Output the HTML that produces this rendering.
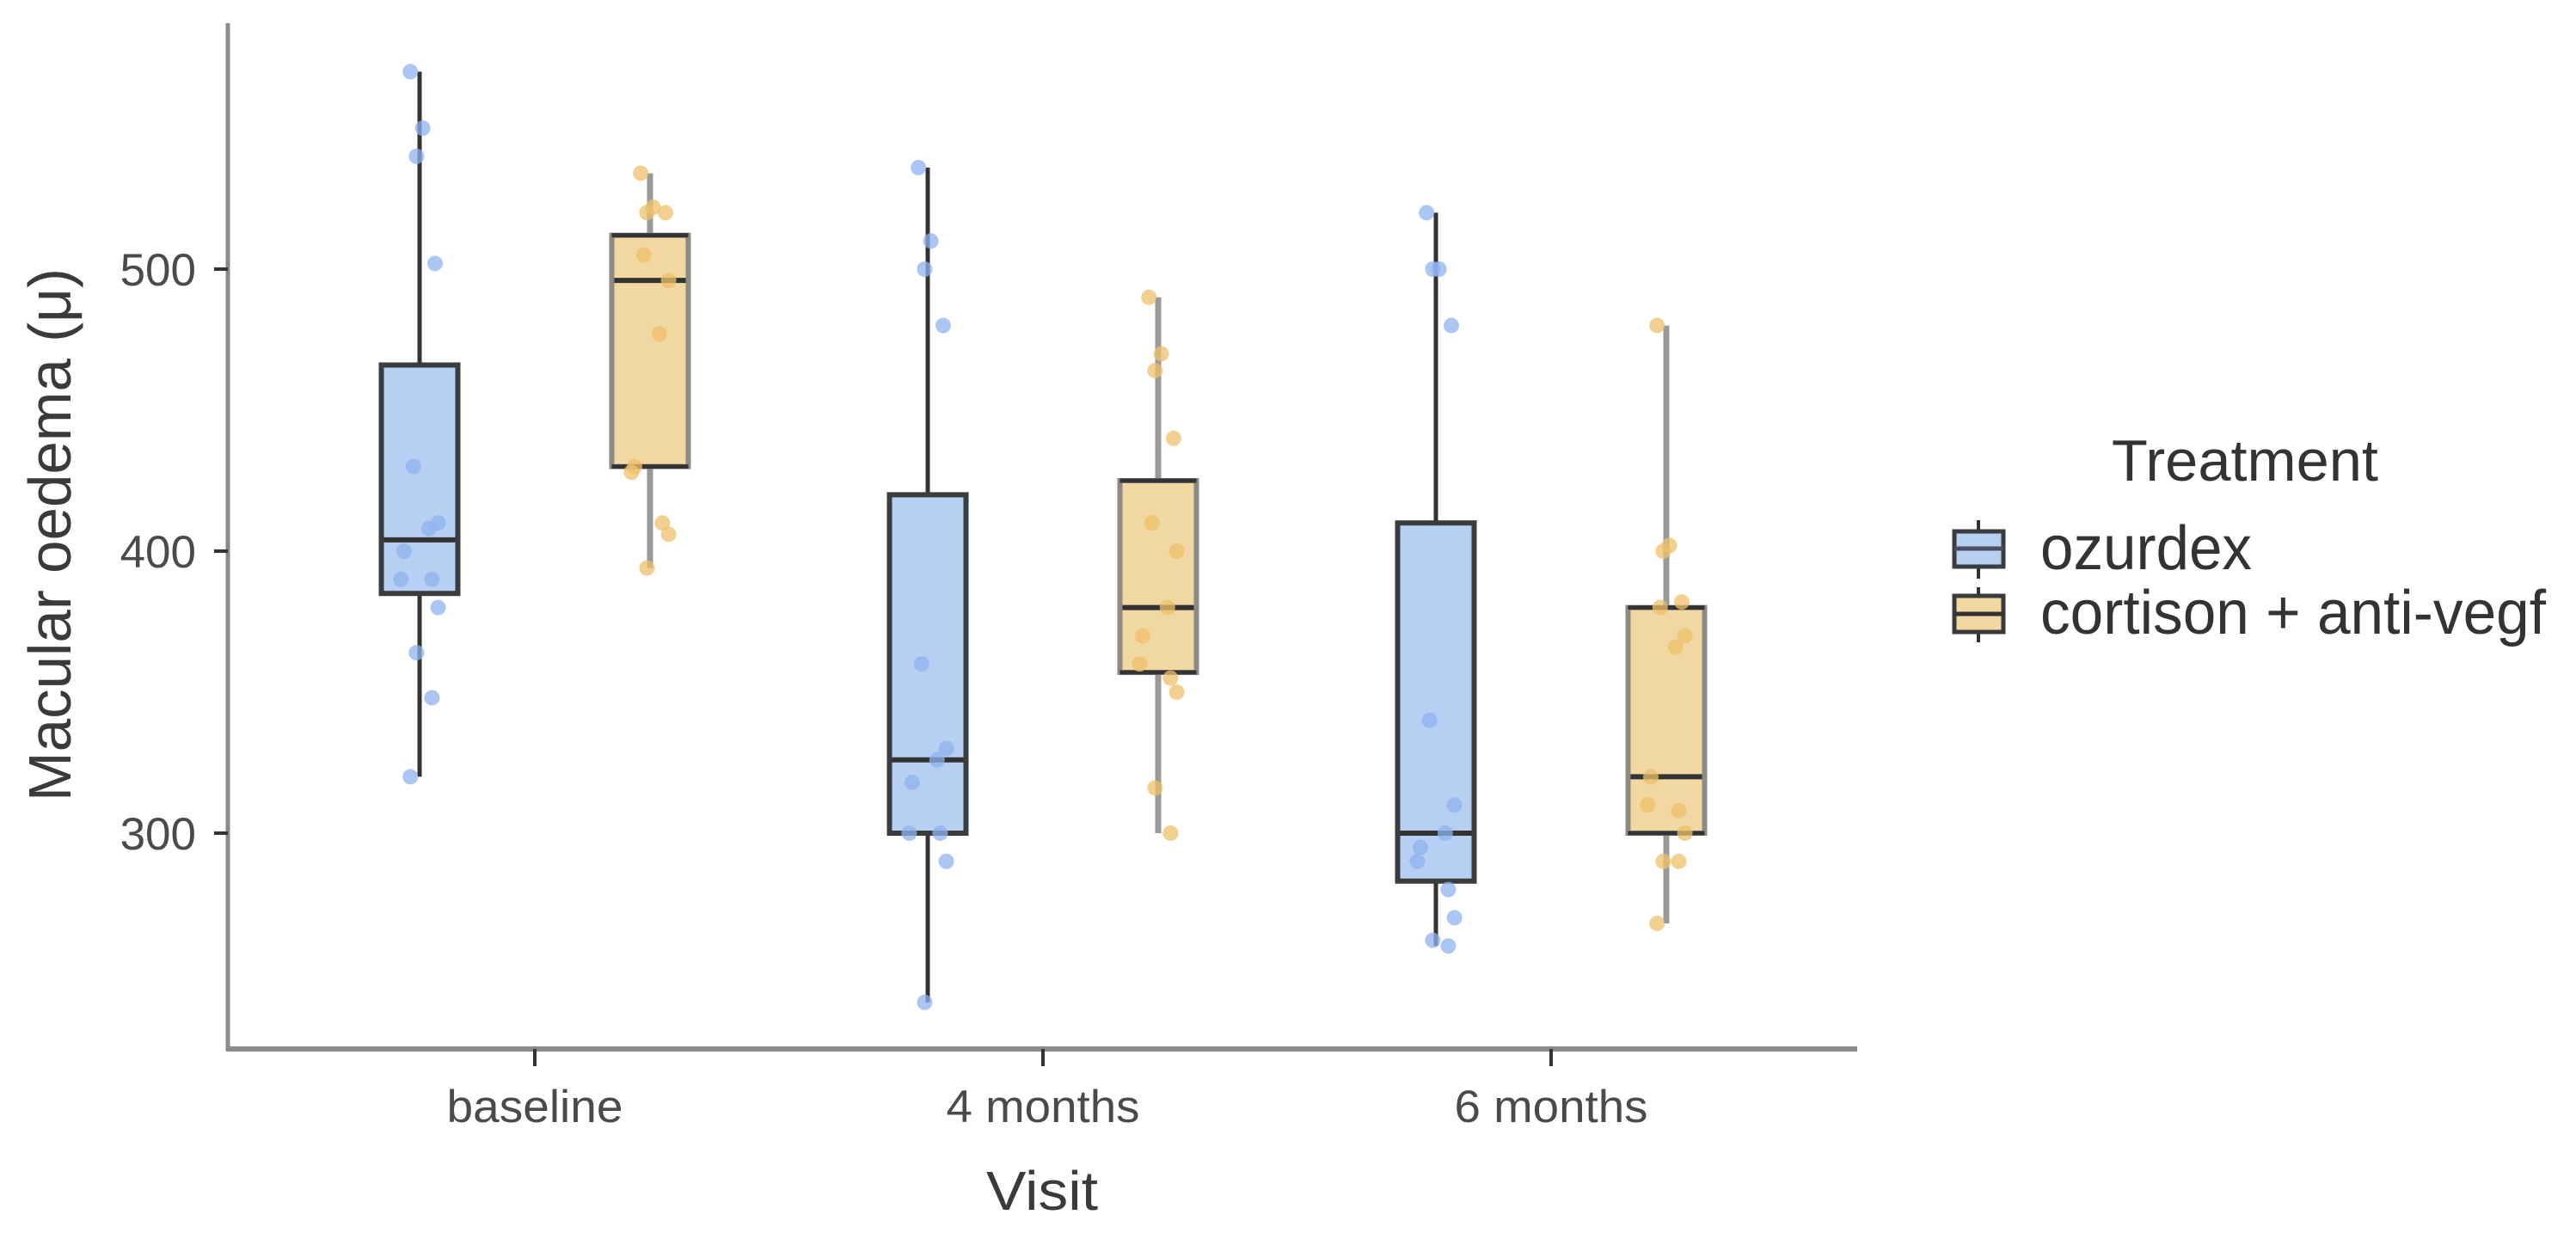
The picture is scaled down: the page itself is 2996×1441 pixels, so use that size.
<!DOCTYPE html>
<html><head><meta charset="utf-8"><style>
html,body{margin:0;padding:0;background:#fff;}
svg{display:block;}
text{font-family:"Liberation Sans",sans-serif;}
</style></head><body>
<svg id="chart" width="2996" height="1441" viewBox="0 0 2996 1441" xmlns="http://www.w3.org/2000/svg">
<rect width="2996" height="1441" fill="#fff"/>
<g id="plot"></g>
<g id="axes"></g>
<text x="82" y="622" font-size="70" fill="#3a3a3a" text-anchor="middle" transform="rotate(-90 82 622)" textLength="620" lengthAdjust="spacingAndGlyphs">Macular oedema (μ)</text>
<text x="1212" y="1407" font-size="64" fill="#3a3a3a" text-anchor="middle" textLength="130" lengthAdjust="spacingAndGlyphs">Visit</text>
<g id="legend">
<text x="2611" y="559" font-size="68" fill="#333" text-anchor="middle" textLength="310" lengthAdjust="spacingAndGlyphs">Treatment</text>
<g>
<line x1="2301" y1="605" x2="2301" y2="673" stroke="#333" stroke-width="4"/>
<rect x="2273" y="618" width="57" height="41" fill="#b6cff2" stroke="#3a3d40" stroke-width="5"/>
<line x1="2273" y1="638" x2="2330" y2="638" stroke="#4a5060" stroke-width="5"/>
<text x="2373" y="662" font-size="72" fill="#333" textLength="246" lengthAdjust="spacingAndGlyphs">ozurdex</text>
</g>
<g>
<line x1="2301" y1="683" x2="2301" y2="747" stroke="#333" stroke-width="4"/>
<rect x="2273" y="693" width="57" height="42" fill="#f1d7a1" stroke="#3a3a3a" stroke-width="5"/>
<line x1="2273" y1="714" x2="2330" y2="714" stroke="#333" stroke-width="5"/>
<text x="2373" y="737" font-size="72" fill="#333" textLength="588" lengthAdjust="spacingAndGlyphs">cortison + anti-vegf</text>
</g>
</g>
</svg>
<script>
const categories = ["baseline", "4 months", "6 months"];
const groups = ["ozurdex", "cortison + anti-vegf"];
const yTicks = [300, 400, 500];
// [whiskerLow, q1, median, q3, whiskerHigh] per category
const ozurdexStats = [[320,385,404,466,570],[240,300,326,420,536],[260,283,300,410,520]];
const cortisonStats = [[394,430,496,512,534],[300,357,380,425,490],[268,300,320,380,480]];
const ozurdexPoints = [
 [570,550,540,502,430,410,408,400,390,390,380,364,348,320],
 [536,510,500,480,360,330,326,318,300,300,290,240],
 [520,500,500,480,340,310,300,295,290,280,270,262,260]];
const cortisonPoints = [
 [534,522,520,520,505,496,477,430,428,410,406,394],
 [490,470,464,440,410,400,380,370,360,355,350,316,300],
 [480,402,400,382,380,370,366,320,310,308,300,290,290,268]];
const jitter = [-0.3,0.1,-0.1,0.5,-0.2,0.6,0.3,-0.5,-0.6,0.4,0.6,-0.1,0.4,-0.3];

const NS="http://www.w3.org/2000/svg";
const xAxisLeft=265, xAxisRight=2160, yAxisTop=27, yAxisBottom=1220;
function yScale(v){return 313+(500-v)*3.28;}
function xScale(i){return 622+i*591;}
const dodge=134, boxW=89;
function mk(tag,attrs,parent){const e=document.createElementNS(NS,tag);for(const k in attrs)e.setAttribute(k,attrs[k]);parent.appendChild(e);return e;}
const plot=document.getElementById('plot');
const axes=document.getElementById('axes');

const styles=[
 {stats:ozurdexStats,pts:ozurdexPoints,fill:"#b6cff2",side:"#3a3d40",hz:"#3a3d40",wh:"#333",ww:5,pt:"#8fb3ee",name:"ozurdex"},
 {stats:cortisonStats,pts:cortisonPoints,fill:"#f1d7a1",side:"#8e8a82",hz:"#333",wh:"#999",ww:7,pt:"#eec06a",name:"cortison"}];

styles.forEach((s,gi)=>{
 categories.forEach((c,ci)=>{
  const cx=xScale(ci)+(gi===0?-dodge:dodge);
  const st=s.stats[ci];
  const g=mk('g',{},plot);
  
  
  mk('line',{x1:cx,x2:cx,y1:yScale(st[4]),y2:yScale(st[3]),stroke:s.wh,'stroke-width':s.ww},g);
  mk('line',{x1:cx,x2:cx,y1:yScale(st[1]),y2:yScale(st[0]),stroke:s.wh,'stroke-width':s.ww},g);
  const top=yScale(st[3]),bot=yScale(st[1]);
  mk('rect',{x:cx-boxW/2,y:top,width:boxW,height:bot-top,fill:s.fill,stroke:s.side,'stroke-width':6},g);
  mk('line',{x1:cx-boxW/2,x2:cx+boxW/2,y1:top,y2:top,stroke:s.hz,'stroke-width':5},g);
  mk('line',{x1:cx-boxW/2,x2:cx+boxW/2,y1:bot,y2:bot,stroke:s.hz,'stroke-width':5},g);
  mk('line',{x1:cx-boxW/2+3,x2:cx+boxW/2-3,y1:yScale(st[2]),y2:yScale(st[2]),stroke:"#333",'stroke-width':6},g);
  s.pts[ci].forEach((v,pi)=>{
   const p=mk('circle',{cx:cx+jitter[pi%jitter.length]*36,cy:yScale(v),r:9,fill:s.pt,'fill-opacity':0.75},plot);
   
   
  });
 });
});

let el=mk('line',{x1:xAxisLeft,x2:xAxisLeft,y1:yAxisTop,y2:yAxisBottom+2,stroke:"#8a8a8a",'stroke-width':5},axes);


el=mk('line',{x1:xAxisLeft-2,x2:xAxisRight,y1:yAxisBottom,y2:yAxisBottom,stroke:"#8a8a8a",'stroke-width':6},axes);


yTicks.forEach(v=>{
 const y=yScale(v);
 mk('line',{x1:249,x2:265,y1:y,y2:y,stroke:"#333",'stroke-width':4},axes);
 const t=mk('text',{x:228,y:y+19,'font-size':53,fill:"#4a4a4a",'text-anchor':'end'},axes);
 t.textContent=v;
 
 
});
categories.forEach((c,i)=>{
 const x=xScale(i);
 mk('line',{x1:x,x2:x,y1:yAxisBottom,y2:1240,stroke:"#333",'stroke-width':4},axes);
 const t=mk('text',{x:x,y:1305,'font-size':53,fill:"#4a4a4a",'text-anchor':'middle',textLength:(c==="baseline"?205:225),lengthAdjust:"spacingAndGlyphs"},axes);
 t.textContent=c;
 
 
});
</script>
</body></html>
